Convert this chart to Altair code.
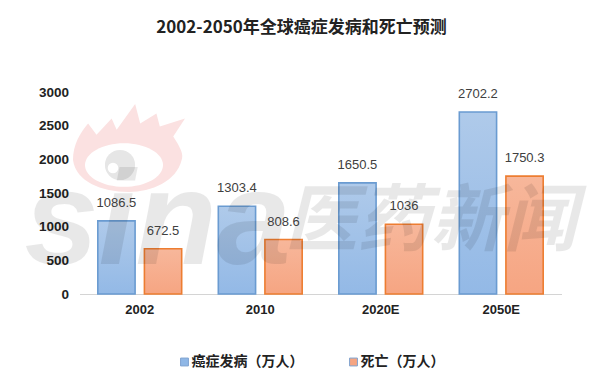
import altair as alt
import pandas as pd

years = ["2002", "2010", "2020E", "2050E"]
incidence = [1086.5, 1303.4, 1650.5, 2702.2]
deaths = [672.5, 808.6, 1036, 1750.3]
label_text = ["1086.5", "1303.4", "1650.5", "2702.2", "672.5", "808.6", "1036", "1750.3"]
series_names = ["癌症发病（万人）", "死亡（万人）"]
title_text = "2002-2050年全球癌症发病和死亡预测"

rows = []
for i, y in enumerate(years):
    rows.append({"year": y, "series": series_names[0], "value": incidence[i], "label": label_text[i]})
for i, y in enumerate(years):
    rows.append({"year": y, "series": series_names[1], "value": deaths[i], "label": label_text[i + 4]})
df = pd.DataFrame(rows)

W, H = 482, 202
FONT = "Liberation Sans"
CJK = "Noto Sans CJK SC"

x = alt.X("year:N", sort=years, title=None,
          scale=alt.Scale(paddingInner=0.304, paddingOuter=0.152),
          axis=alt.Axis(labelAngle=0, labelFont=FONT, labelFontSize=13, labelFontWeight="bold",
                        labelColor="#222222", labelPadding=9, ticks=False, domainColor="#D4D4D4",
                        domainWidth=1, grid=False))
y = alt.Y("value:Q", title=None, scale=alt.Scale(domain=[0, 3000], nice=False),
          axis=alt.Axis(values=[0, 500, 1000, 1500, 2000, 2500, 3000], format="d", labelFont=FONT, labelFontSize=13.5,
                        labelFontWeight="bold", labelColor="#222222", labelPadding=11,
                        ticks=False, domain=False, grid=False))
offset = alt.XOffset("series:N", sort=series_names, scale=alt.Scale(paddingInner=0.2, paddingOuter=0))

blue = alt.Gradient(gradient="linear", x1=0, y1=0, x2=0, y2=1,
                    stops=[alt.GradientStop(color="#AFCAEA", offset=0), alt.GradientStop(color="#93B9E6", offset=1)])
orange = alt.Gradient(gradient="linear", x1=0, y1=0, x2=0, y2=1,
                      stops=[alt.GradientStop(color="#F7B79B", offset=0), alt.GradientStop(color="#F6A582", offset=1)])

base = alt.Chart(df)

def bars(name, fill, stroke):
    return base.transform_filter(alt.datum.series == name).mark_bar(
        fill=fill, stroke=stroke, strokeWidth=1.6
    ).encode(x=x, y=y, xOffset=offset)

labels = base.mark_text(font=FONT, fontSize=13, color="#404040", baseline="middle", dy=-18).encode(
    x=x, y=y, xOffset=offset, text="label:N")

legend_src = base.mark_point(opacity=0, filled=True).encode(
    color=alt.Color("series:N", sort=series_names, title=None,
                    scale=alt.Scale(domain=series_names, range=["#8FB7E6", "#F6A582"]),
                    legend=alt.Legend(orient="none", legendX=98, legendY=263, direction="horizontal",
                                      symbolType="square", symbolSize=62, symbolOpacity=1,
                                      symbolStrokeWidth=1, labelFont=CJK, labelFontSize=14,
                                      labelFontWeight="bold", labelColor="#222222", labelOffset=0,
                                      columnPadding=43, symbolStrokeColor="#7FA3D0")))

one = pd.DataFrame({"a": [0]})
flame = ("M-1 0.22 C-1 -0.05 -0.88 -0.25 -0.73 -0.43 L-0.58 -0.23 L-0.31 -0.52 L-0.22 -0.32 "
         "L0.11 -0.78 L0.2 -0.43 L0.49 -0.61 L0.55 -0.38 L1 -0.52 L0.79 -0.2 "
         "C0.92 0 0.98 0.12 0.94 0.22 C0.85 0.6 0.4 0.79 0 0.79 C-0.5 0.79 -0.95 0.6 -1 0.22 Z")
eye = "M-1 0 C-1 -0.31 -0.55 -0.56 0 -0.56 C0.55 -0.56 1 -0.31 1 0 C1 0.31 0.55 0.56 0 0.56 C-0.55 0.56 -1 0.31 -1 0 Z"

def spot(px, py, shape, size, color, opacity=1.0):
    return alt.Chart(one).mark_point(shape=shape, size=size, filled=True, color=color,
                                     opacity=opacity, strokeWidth=0).encode(
        x=alt.value(px), y=alt.value(py))

logo = alt.layer(
    spot(49.5, 55.7, flame, 12544, "#FBE1E1"),
    spot(44.5, 73, eye, 6084, "#FFFFFF"),
    spot(40.5, 73, "circle", 908, "#E6E6E6"),
    spot(33.5, 76, "circle", 113, "#FFFFFF"),
)

def mark_word(text, px, py, size, font):
    return alt.Chart(one).mark_text(text=text, font=font, fontSize=size, fontWeight="bold", fontStyle="italic",
                                    color="#000000", opacity=0.085, align="left", baseline="alphabetic").encode(
        x=alt.value(px), y=alt.value(py))

words = alt.layer(
    mark_word("sina", -55, 172, 133, FONT),
    mark_word("医药新闻", 205, 153, 73, CJK),
)

chart = alt.layer(
    logo,
    bars(series_names[0], blue, "#6A9BD1"),
    bars(series_names[1], orange, "#ED7D31"),
    words,
    labels,
    legend_src,
).resolve_scale(color="independent").properties(
    width=W, height=H,
    title=alt.TitleParams(title_text, font=CJK, fontSize=17, fontWeight="bold", color="#222222",
                          anchor="middle", dx=-19, dy=-48, offset=0),
    autosize=alt.AutoSizeParams(type="none"),
    padding={"left": 71.5, "top": 84, "right": 30, "bottom": 90},
).configure_view(stroke=None)

chart.save("out.html", embed_options={"renderer": "svg", "actions": False})
